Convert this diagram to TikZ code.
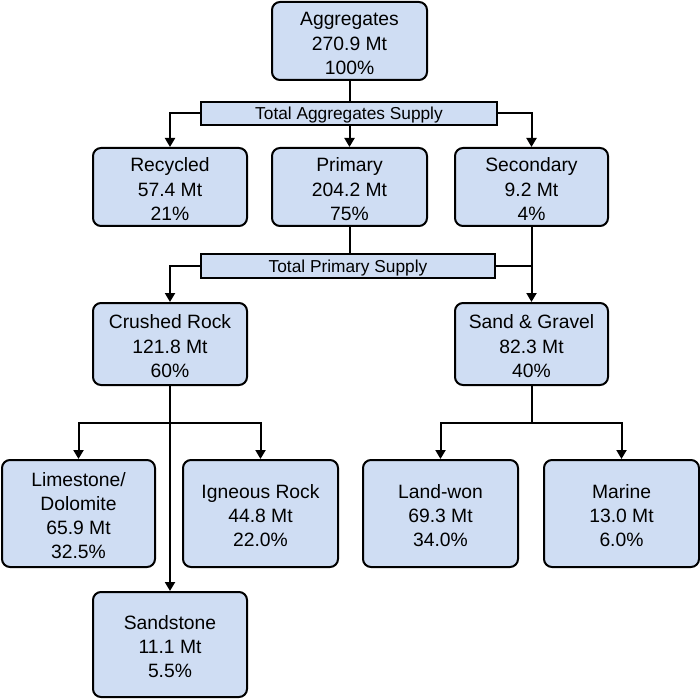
\documentclass[tikz,border=0pt]{standalone}
\usepackage{fontspec}
\setmainfont{Liberation Sans}
\usetikzlibrary{arrows.meta}
\definecolor{boxfill}{RGB}{207,221,243}
\newcommand{\topsp}{\rule{0pt}{18.5pt}}
\tikzset{
  box/.style={draw=black, line width=2pt, fill=boxfill, rounded corners=8pt,
    align=center, inner sep=0pt, font=\fontsize{19.3}{24.2}\selectfont},
  bar/.style={draw=black, line width=2pt, fill=boxfill, inner sep=0pt,
    font=\fontsize{17.3}{20}\selectfont, text height=12.4pt, text depth=0pt},
  conn/.style={line width=2pt, draw=black},
  arr/.style={conn, -{Triangle[length=9pt,width=10pt]}}
}
\begin{document}
\begin{tikzpicture}[x=1pt,y=-1pt]
\useasboundingbox (0,0) rectangle (700,700);
\node[box, minimum width=155pt, minimum height=78pt] (agg) at (349.5,41) {\topsp Aggregates\\270.9 Mt\\100\%};
\node[bar, minimum width=296pt, minimum height=23pt] (tas) at (349,113.5) {Total Aggregates Supply};
\node[box, minimum width=154pt, minimum height=78pt] (rec) at (170,187) {\topsp Recycled\\57.4 Mt\\21\%};
\node[box, minimum width=155pt, minimum height=78pt] (pri) at (349.5,187) {\topsp Primary\\204.2 Mt\\75\%};
\node[box, minimum width=153pt, minimum height=78pt] (sec) at (531.5,187) {\topsp Secondary\\9.2 Mt\\4\%};
\node[bar, minimum width=294pt, minimum height=24pt] (tps) at (348,266) {Total Primary Supply};
\node[box, minimum width=154pt, minimum height=82pt] (cr) at (170,344) {\topsp Crushed Rock\\121.8 Mt\\60\%};
\node[box, minimum width=153pt, minimum height=82pt] (sg) at (531.5,344) {\topsp Sand \& Gravel\\82.3 Mt\\40\%};
\node[box, minimum width=153pt, minimum height=107pt] (lime) at (78.5,513.5) {\topsp Limestone/\\Dolomite\\65.9 Mt\\32.5\%};
\node[box, minimum width=155pt, minimum height=107pt] (ign) at (260.5,513.5) {\topsp Igneous Rock\\44.8 Mt\\22.0\%};
\node[box, minimum width=155pt, minimum height=107pt] (land) at (440.5,513.5) {\topsp Land-won\\69.3 Mt\\34.0\%};
\node[box, minimum width=155pt, minimum height=107pt] (mar) at (621.5,513.5) {\topsp Marine\\13.0 Mt\\6.0\%};
\node[box, minimum width=154pt, minimum height=105pt] (sand) at (170,644.5) {\topsp Sandstone\\11.1 Mt\\5.5\%};
\coordinate (crj) at (170,423);
\coordinate (sgj) at (531.5,423);
% connectors
\draw[conn] (agg.south) -- (agg.south |- tas.north);
\draw[arr] (tas.west) -| (rec.north);
\draw[arr] (tas.south -| pri.north) -- (pri.north);
\draw[arr] (tas.east) -| (sec.north);
\draw[conn] (pri.south) -- (pri.south |- tps.north);
\draw[arr] (tps.west) -| (cr.north);
\draw[arr] (sec.south) -- (sg.north);
\draw[conn] (tps.east) -- (tps.east -| sec.south);
\draw[arr] (cr.south) -- (sand.north);
\draw[arr] (crj) -| (lime.north);
\draw[arr] (crj) -| (ign.north);
\draw[conn] (sg.south) -- (sgj);
\draw[arr] (sgj) -| (land.north);
\draw[arr] (sgj) -| (mar.north);
\end{tikzpicture}
\end{document}
